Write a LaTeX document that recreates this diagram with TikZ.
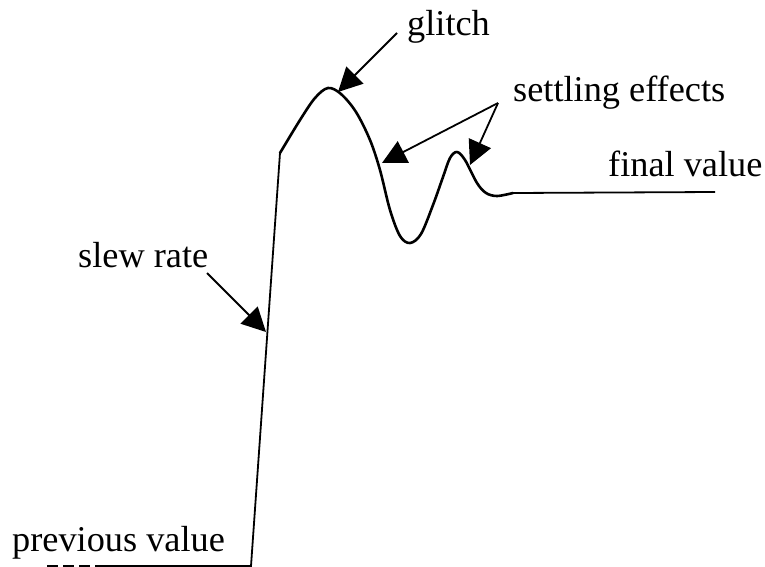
\documentclass[tikz,border=0pt]{standalone}
\usepackage{fontspec}
\setmainfont{Liberation Serif}
\usetikzlibrary{arrows.meta}
\tikzset{
  lbl/.style={inner sep=0pt, anchor=base west, font=\fontsize{36.3}{40}\selectfont},
  wave/.style={line width=2.6pt, line join=round, line cap=round},
  trace/.style={line width=1.8pt},
  pointer/.style={line width=1.8pt, -{Triangle[length=24pt,width=24pt]}}
}
\begin{document}
\begin{tikzpicture}[x=1pt,y=-1pt]
\useasboundingbox (0,0) rectangle (765,567);
% labels
\node[lbl] (glitch) at (407,36) {glitch};
\node[lbl] (settle) at (513,102) {settling effects};
\node[lbl] (final) at (608,176) {final value};
\node[lbl] (slew) at (78,267) {slew rate};
\node[lbl] (prev) at (12,551) {previous value};
% key points
\coordinate (b0) at (47,566);
\coordinate (b1) at (103,566);
\coordinate (b2) at (251,566);
\coordinate (k) at (280,153);
\coordinate (e0) at (513,193);
\coordinate (e1) at (715,192);
% arrow ends
\coordinate (gs) at (397,33);
\coordinate (gt) at (338,92);
\coordinate (ss) at (498,103);
\coordinate (st1) at (382,163);
\coordinate (st2) at (470,165);
\coordinate (rs) at (207,273);
\coordinate (rt) at (266,332);
% trace
\draw[trace, dash pattern=on 11pt off 5pt] (b0) -- (b1);
\draw[trace, line join=miter] (b1) -- (b2) -- (k);
\draw[wave] plot[smooth, tension=0.55] coordinates {
  (280,153) (300,120) (315,98) (328,88) (341,94) (356,112) (370,140)
  (380,170) (390,210) (400,236) (410,243) (421,234) (433,205) (443,177)
  (450,158) (457,152) (465,160) (477,183) (486,193) (497,196) (513,193)};
\draw[trace] (e0) -- (e1);
% pointers
\draw[pointer] (gs) -- (gt);
\draw[pointer] (ss) -- (st1);
\draw[pointer] (ss) -- (st2);
\draw[pointer] (rs) -- (rt);
\end{tikzpicture}
\end{document}
